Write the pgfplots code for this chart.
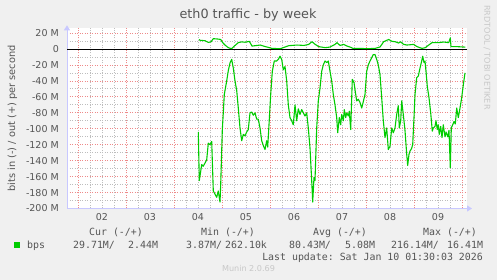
\documentclass[border=0pt]{standalone}
\usepackage{fontspec}
\setmainfont{DejaVu Sans}
\setmonofont{DejaVu Sans Mono}
\usepackage{pgfplots}
\pgfplotsset{compat=1.18}
\usetikzlibrary{arrows.meta}
\definecolor{bg}{HTML}{F0F0F0}
\definecolor{txt}{HTML}{555555}
\definecolor{axc}{HTML}{C8C8FF}
\definecolor{mgrid}{HTML}{EE8A8A}
\definecolor{ngrid}{HTML}{BDBDBD}
\definecolor{ln}{HTML}{00CC00}
\definecolor{faint}{HTML}{C8C8C8}
\newcommand\legfont{\fontsize{9.9bp}{11bp}\ttfamily}
\begin{document}
\begin{tikzpicture}[every node/.style={inner sep=0pt}]
\useasboundingbox (0bp,0bp) rectangle (497bp,280bp);
\fill[bg] (0bp,0bp) rectangle (497bp,280bp);
\begin{axis}[
  at={(67bp,71.5bp)}, anchor=south west, scale only axis,
  width=400bp, height=180.2bp,
  xmin=18.5, xmax=218.5, ymin=-200, ymax=26,
  axis background/.style={fill=white},
  axis lines=left,
  axis line style={axc, line width=1bp},
  x axis line style={-{Triangle[width=6bp,length=5bp]}, shorten >=-5bp},
  y axis line style={-{Triangle[width=6bp,length=5bp]}, shorten >=-3bp},
  xtick={36,60,...,204}, xticklabels={02,03,04,05,06,07,08,09},
  ytick={-200,-180,...,20},
  yticklabels={-200 M,-180 M,-160 M,-140 M,-120 M,-100 M,-80 M,-60 M,-40 M,-20 M,0,20 M},
  minor xtick={24,30,...,216}, minor ytick={-190,-170,...,10},
  xmajorgrids=false, xminorgrids=true, ymajorgrids=true, yminorgrids=true,
  major grid style={mgrid, line width=0.8bp, dash pattern=on 1bp off 1.5bp},
  minor grid style={ngrid, line width=0.8bp, dash pattern=on 1bp off 1.5bp},
  extra x ticks={24,48,...,216}, extra x tick labels={},
  extra x tick style={grid=major},
  extra y ticks={0}, extra y tick labels={},
  extra y tick style={grid=major, major grid style={black, solid, line width=1bp}},
  major tick length=0pt, minor tick length=0pt,
  tick label style={font=\fontsize{9.5bp}{11bp}\selectfont, text=txt, inner sep=0pt},
  yticklabel style={anchor=east, xshift=-8bp},
  xticklabel style={anchor=north, yshift=-5bp},
]
\addplot[ln, line width=1.1bp, line join=round] coordinates {
(84.15,-104) (84.65,-165) (85.85,-145) (86.6,-147) (87.5,-143) (88.35,-139) (89.15,-118) (90,-120) (90.85,-116)
(91.65,-178) (92.5,-182) (93.35,-186) (94.15,-178) (95,-192) (95.35,-170) (96.15,-102) (97.15,-57) (98.35,-40)
(99.15,-27) (100,-17.5) (100.85,-13) (101.65,-24) (102.5,-40) (103.35,-52) (104.15,-74) (105,-99) (105.85,-115)
(106.65,-107) (107.5,-109) (108.35,-104) (109.15,-101) (110,-80) (110.85,-79) (111.65,-83) (112.5,-80) (113.35,-88)
(114.15,-88) (115,-99) (115.85,-115) (116.65,-121) (117.5,-126) (118.35,-115) (118.85,-123) (119.5,-95) (120.35,-57)
(121.15,-28) (122.15,-15) (123.35,-15) (124.15,-13) (125,-9) (125.85,-13) (126.65,-26) (127.5,-22) (128.35,-40)
(129.15,-70) (130,-86) (130.85,-90) (131.65,-95) (132.5,-70) (133.35,-90) (134.15,-75) (135,-82) (135.85,-76)
(136.65,-80) (137.5,-84) (138.35,-80) (139.15,-99) (140,-124) (140.85,-165) (141.35,-192) (142,-161) (142.5,-165)
(143.35,-99) (144.15,-65) (145,-49) (145.85,-28) (146.65,-20) (147.5,-15) (148.35,-17) (149.15,-15) (150,-28)
(150.85,-40) (151.65,-57) (152.5,-70) (153.35,-86) (153.85,-105) (154.65,-86) (155.35,-95) (155.85,-82) (156.65,-90)
(157.15,-76) (157.85,-86) (158.35,-80) (159.15,-84) (159.65,-78) (160.35,-101) (161.15,-38) (162,-42) (162.5,-51)
(163.35,-65) (164.15,-63) (165,-67) (165.85,-74) (166.65,-66) (167.5,-57) (168.35,-28) (169.15,-20) (170,-15)
(170.85,-11) (171.65,-7) (172.5,-7) (173.35,-13) (174.15,-20) (175,-32) (175.85,-61) (176.65,-90) (177.5,-111)
(178.35,-99) (179.15,-126) (180,-122) (180.85,-99) (181.65,-105) (182.5,-99) (183.35,-82) (184.15,-71) (184.65,-99)
(185.35,-90) (185.85,-65) (186.65,-82) (187.5,-102) (188.35,-132) (188.85,-146) (189.5,-132) (190,-128) (190.75,-125)
(191.35,-120) (192,-86) (192.5,-57) (193.35,-36) (194.15,-34) (195,-24) (195.85,-15) (196.35,-9) (197,-17)
(197.5,-15) (198,-28) (198.65,-47) (199.5,-61) (200.35,-80) (201.15,-103) (201.65,-99) (202.5,-97) (203,-90)
(203.65,-101) (204.15,-95) (204.65,-107) (205.35,-97) (206,-111) (206.65,-95) (207.5,-110) (208,-104) (208.85,-110)
(209.5,-102) (210.15,-149) (210.65,-99) (211.35,-95) (212,-91) (212.65,-94) (213.35,-74) (214.15,-86) (215,-74)
(215.85,-61) (216.65,-45) (217.5,-30)
};
\addplot[ln, line width=1.1bp, line join=round] coordinates {
(84.5,12) (85,11) (87.5,10.4) (89.15,8.3) (90.5,9) (91.65,13) (94,12.5) (95.35,12) (96.35,8) (97.5,5)
(99.15,1.7) (100.85,0.4) (102.15,3.7) (104.15,8) (105.85,9) (107.5,8.5) (109.65,9.6) (110.5,6) (111,3.7)
(115.15,5) (117,3.5) (121,0.8) (125.15,0.4) (127.5,2.5) (129.35,4.2) (133.5,5) (137,4.5) (139.35,5.8)
(141,9.2) (142.5,6) (144.35,3) (147.65,1.7) (150,2.5) (152.5,5.8) (153.5,8) (155,4.5) (156.85,5.8)
(158.5,3.7) (160,2.5) (161.5,0.8) (165,0.8) (168.5,0.4) (172.5,0.8) (175,2.5) (176.85,9.2) (179.35,12)
(181,9.6) (182.5,9.2) (184.35,7.5) (185.15,9.2) (186.85,5.8) (188.5,5) (191.85,5.8) (193.5,3) (196,0.8)
(197.65,1.7) (199.35,5) (201,8) (204.35,8) (206.85,8.8) (209.35,8) (210.15,14) (210.5,3) (213.5,3) (217.65,2.4)
};
\end{axis}
\node[anchor=base, font=\fontsize{12.8bp}{14bp}\selectfont, text=txt] at (248bp,261.7bp) {eth0 traffic - by week};
\node[rotate=90, anchor=base, font=\fontsize{9.8bp}{11bp}\selectfont, text=txt] at (15bp,161.5bp) {bits in (-) / out (+) per second};
\node[rotate=-90, anchor=base, font=\fontsize{8.1bp}{9bp}\selectfont, text=faint] at (484.3bp,222.5bp) {RRDTOOL / TOBI OETIKER};
\node[anchor=base west, font=\legfont, text=txt] at (89bp,44.3bp) {Cur (-/+)};
\node[anchor=base west, font=\legfont, text=txt] at (201bp,44.3bp) {Min (-/+)};
\node[anchor=base west, font=\legfont, text=txt] at (313bp,44.3bp) {Avg (-/+)};
\node[anchor=base west, font=\legfont, text=txt] at (423bp,44.3bp) {Max (-/+)};
\fill[ln] (14bp,32bp) rectangle (20bp,38bp);
\node[anchor=base west, font=\legfont, text=txt] at (27bp,32bp) {bps};
\node[anchor=base west, font=\legfont, text=txt] at (73bp,32bp) {29.71M/};
\node[anchor=base west, font=\legfont, text=txt] at (128bp,32bp) {2.44M};
\node[anchor=base west, font=\legfont, text=txt] at (186bp,32bp) {3.87M/};
\node[anchor=base west, font=\legfont, text=txt] at (225bp,32bp) {262.10k};
\node[anchor=base west, font=\legfont, text=txt] at (289bp,32bp) {80.43M/};
\node[anchor=base west, font=\legfont, text=txt] at (345bp,32bp) {5.08M};
\node[anchor=base west, font=\legfont, text=txt] at (391bp,32bp) {216.14M/};
\node[anchor=base west, font=\legfont, text=txt] at (447bp,32bp) {16.41M};
\node[anchor=base east, font=\legfont, text=txt] at (483bp,20bp) {Last update: Sat Jan 10 01:30:03 2026};
\node[anchor=base, font=\fontsize{8.1bp}{9bp}\selectfont, text=faint] at (248.5bp,8.3bp) {Munin 2.0.69};
\end{tikzpicture}
\end{document}
